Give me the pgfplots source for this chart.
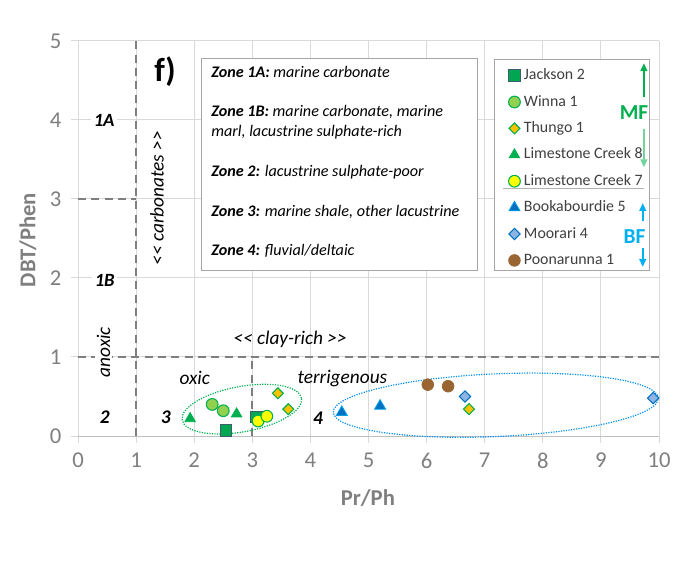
\documentclass[border=0pt]{standalone}
\usepackage{fontspec}
\setmainfont{Carlito}
\usepackage{pgfplots}
\pgfplotsset{compat=1.18}
\usetikzlibrary{arrows.meta}
\definecolor{gridgray}{HTML}{D9D9D9}
\definecolor{axisgray}{HTML}{BFBFBF}
\definecolor{ticktext}{HTML}{7F7F7F}
\definecolor{dashgray}{HTML}{7F7F7F}
\definecolor{jfill}{HTML}{00A651}
\definecolor{jdraw}{HTML}{3A5F6A}
\definecolor{wfill}{HTML}{92D050}
\definecolor{mgreen}{HTML}{00B050}
\definecolor{tfill}{HTML}{FFC000}
\definecolor{lyellow}{HTML}{FFFF00}
\definecolor{bblue}{HTML}{0070C0}
\definecolor{bedge}{HTML}{00A0E8}
\definecolor{mfill}{HTML}{8EB4E3}
\definecolor{pbrown}{HTML}{996633}
\definecolor{mflight}{HTML}{70D49C}
\definecolor{bfblue}{HTML}{00B0F0}
\begin{document}
\begin{tikzpicture}
\useasboundingbox (0,0) rectangle (516pt,420pt);
\begin{axis}[
  at={(58.5pt,93pt)}, anchor=south west,
  width=435.75pt, height=296.25pt, scale only axis,
  xmin=0, xmax=10, ymin=0, ymax=5,
  xtick={0,...,10}, ytick={0,...,5},
  grid=major, grid style={draw=gridgray, line width=0.75pt},
  axis lines*=left,
  x axis line style={draw=axisgray, line width=0.75pt, -},
  y axis line style={draw=gridgray, line width=0.75pt, -},
  tick align=outside, major tick length=5pt,
  tick style={draw=gridgray, line width=0.75pt},
  tick label style={font=\fontsize{17}{20}\selectfont, text=ticktext},
  /pgf/number format/assume math mode=true,
  xticklabel style={yshift=-4pt},
  yticklabel style={xshift=-4pt},
  xlabel={Pr/Ph}, ylabel={DBT/Phen},
  label style={font=\bfseries\fontsize{17}{20}\selectfont, text=ticktext},
  xlabel style={at={(axis description cs:0.499,-0.156)}, anchor=center},
  ylabel style={at={(axis description cs:-0.086,0.496)}, anchor=center, rotate=0},
  clip=false,
  legend style={at={(axis cs:7.31,4.70)}, anchor=north west, draw=none, fill=none,
    font=\fontsize{11.9}{13}\selectfont, text=black!75,
    nodes={inner sep=0pt, text height=9pt, text depth=3pt},
    row sep=7.8pt, column sep=1.5pt},
  legend cell align=left,
  legend image code/.code={\path (0,0) (0.38cm,0); \draw[#1] plot coordinates {(0.19cm,0cm)};},
]
% background boxes
\draw[draw=black!35, fill=white, line width=0.75pt] (axis cs:2.12,2.10) rectangle (axis cs:6.88,4.78);
\draw[draw=black!35, fill=white, line width=0.75pt] (axis cs:7.16,2.09) rectangle (axis cs:9.83,4.76);
\draw[draw=black!30, line width=0.75pt] (axis cs:7.31,3.13) -- (axis cs:9.74,3.13);

% dashed zone lines
\draw[dashgray, line width=1.3pt, dash pattern=on 6pt off 4pt] (axis cs:1,0) -- (axis cs:1,5);
\draw[dashgray, line width=1.3pt, dash pattern=on 6pt off 4pt] (axis cs:0,3) -- (axis cs:1,3);
\draw[dashgray, line width=1.3pt, dash pattern=on 6pt off 4pt] (axis cs:0,1) -- (axis cs:10,1);
\draw[dashgray, line width=1.3pt, dash pattern=on 6pt off 4pt] (axis cs:3,0) -- (axis cs:3,1);

% ellipses
\draw[mgreen, line width=0.9pt, densely dotted, rotate around={10.4:(axis cs:2.82,0.34)}] (axis cs:2.82,0.34) ellipse [x radius=45.5pt, y radius=17pt];
\draw[bfblue!80!blue, line width=0.9pt, densely dotted, rotate around={2.5:(axis cs:7.19,0.39)}] (axis cs:7.19,0.39) ellipse [x radius=122pt, y radius=23.5pt];

% zone labels
\node[fill=white, inner sep=2pt, font=\bfseries\itshape\fontsize{14}{15}\selectfont] at (axis cs:0.45,3.99) {1A};
\node[fill=white, inner sep=2pt, font=\bfseries\itshape\fontsize{14}{15}\selectfont] at (axis cs:0.46,1.97) {1B};
\node[font=\bfseries\itshape\fontsize{14.5}{15}\selectfont] at (axis cs:0.46,0.24) {2};
\node[font=\bfseries\itshape\fontsize{14.5}{15}\selectfont] at (axis cs:1.51,0.24) {3};
\node[font=\bfseries\itshape\fontsize{14.5}{15}\selectfont] at (axis cs:4.13,0.22) {4};
\node[fill=white, inner sep=1.5pt, font=\itshape\fontsize{14.5}{16}\selectfont, rotate=90] at (axis cs:0.44,1.06) {anoxic};
\node[font=\itshape\fontsize{14.5}{16}\selectfont, rotate=90] at (axis cs:1.36,3.01) {<{}< carbonates >{}>};
\node[font=\itshape\fontsize{14.5}{16}\selectfont] at (axis cs:3.65,1.22) {<{}< clay-rich >{}>};
\node[font=\itshape\fontsize{14.5}{16}\selectfont] at (axis cs:2.01,0.73) {oxic};
\node[font=\itshape\fontsize{14.5}{16}\selectfont] at (axis cs:4.55,0.73) {terrigenous};
\node[font=\bfseries\fontsize{25}{27}\selectfont] at (axis cs:1.5,4.61) {f)};

% zone descriptions
\begin{scope}[every node/.style={anchor=west, inner sep=0pt, text height=8pt, text depth=2.5pt, font=\fontsize{12.1}{13}\selectfont}]
\node at (axis cs:2.29,4.582) {\textbf{\textit{Zone 1A:}} \textit{marine carbonate}};
\node at (axis cs:2.29,4.089) {\textbf{\textit{Zone 1B:}} \textit{marine carbonate, marine}};
\node at (axis cs:2.29,3.835) {\textit{marl, lacustrine sulphate-rich}};
\node at (axis cs:2.29,3.329) {\textbf{\textit{Zone 2:}} \textit{lacustrine sulphate-poor}};
\node at (axis cs:2.29,2.823) {\textbf{\textit{Zone 3:}} \textit{marine shale, other lacustrine}};
\node at (axis cs:2.29,2.329) {\textbf{\textit{Zone 4:}} \textit{fluvial/deltaic}};
\end{scope}

% MF / BF annotations
\draw[-{Triangle[length=6pt,width=5pt]}, mgreen, line width=1.6pt] (axis cs:9.74,4.29) -- (axis cs:9.74,4.72);
\draw[-{Triangle[length=6pt,width=5pt]}, mflight, line width=1.6pt] (axis cs:9.74,3.89) -- (axis cs:9.74,3.40);
\node[font=\bfseries\fontsize{16}{17}\selectfont, text=mgreen] at (axis cs:9.57,4.09) {MF};
\draw[-{Triangle[length=6pt,width=5pt]}, bfblue, line width=1.6pt] (axis cs:9.72,2.72) -- (axis cs:9.72,2.95);
\draw[-{Triangle[length=6pt,width=5pt]}, bfblue, line width=1.6pt] (axis cs:9.72,2.38) -- (axis cs:9.72,2.14);
\node[font=\bfseries\fontsize{16}{17}\selectfont, text=bfblue] at (axis cs:9.58,2.53) {BF};

% data
\addplot[only marks, mark=square*, mark size=4.3pt, mark options={fill=jfill, draw=jdraw, line width=0.8pt}]
  coordinates {(2.55,0.07) (3.07,0.24)};
\addlegendentry{Jackson 2}
\addplot[only marks, mark=*, mark size=4.4pt, mark options={fill=wfill, draw=mgreen, line width=0.8pt}]
  coordinates {(2.31,0.40) (2.50,0.32)};
\addlegendentry{Winna 1}
\addplot[only marks, mark=square*, mark size=2.9pt, mark options={rotate=45, fill=tfill, draw=mgreen, line width=0.8pt}]
  coordinates {(3.44,0.54) (3.62,0.34) (6.73,0.34)};
\addlegendentry{Thungo 1}
\addplot[only marks, mark=triangle*, mark size=4.6pt, mark options={fill=mgreen, draw=mgreen, line width=0.5pt}]
  coordinates {(1.93,0.22) (2.73,0.28)};
\addlegendentry{Limestone Creek 8}
\addplot[only marks, mark=*, mark size=4.4pt, mark options={fill=lyellow, draw=mgreen, line width=0.8pt}]
  coordinates {(3.10,0.19) (3.25,0.25)};
\addlegendentry{Limestone Creek 7}
\addplot[only marks, mark=triangle*, mark size=4.8pt, mark options={fill=bblue, draw=bedge, line width=0.6pt}]
  coordinates {(4.54,0.30) (5.20,0.38)};
\addlegendentry{Bookabourdie 5}
\addplot[only marks, mark=square*, mark size=3.0pt, mark options={rotate=45, fill=mfill, draw=bblue, line width=0.8pt}]
  coordinates {(6.66,0.50) (9.90,0.48)};
\addlegendentry{Moorari 4}
\addplot[only marks, mark=*, mark size=4.4pt, mark options={fill=pbrown, draw=pbrown, line width=0.5pt}]
  coordinates {(6.02,0.65) (6.37,0.63)};
\addlegendentry{Poonarunna 1}
\end{axis}
\end{tikzpicture}
\end{document}
